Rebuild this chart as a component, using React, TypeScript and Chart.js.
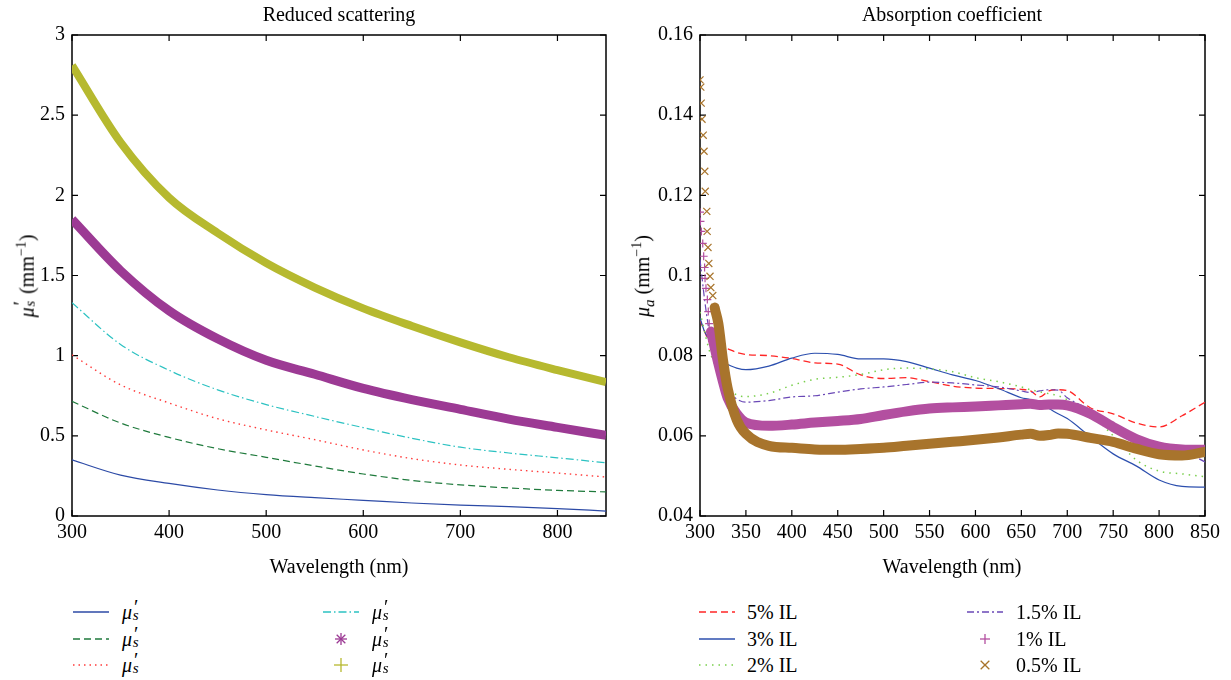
import React, { useEffect, useRef } from 'react';
import { Chart, registerables } from 'chart.js';
Chart.register(...registerables);

const FONT = "'Liberation Serif', 'Times New Roman', serif";

// ---------- Left panel: reduced scattering ----------
const WL_LEFT = [300, 350, 400, 450, 500, 550, 600, 650, 700, 750, 800, 850];
const SCAT_BLUE = [0.35, 0.255, 0.203, 0.162, 0.133, 0.114, 0.098, 0.081, 0.068, 0.058, 0.046, 0.031];
const SCAT_GREEN = [0.715, 0.58, 0.49, 0.42, 0.366, 0.312, 0.262, 0.222, 0.194, 0.175, 0.16, 0.15];
const SCAT_RED = [1.005, 0.818, 0.705, 0.607, 0.537, 0.476, 0.412, 0.358, 0.318, 0.291, 0.268, 0.243];
const SCAT_CYAN = [1.33, 1.07, 0.909, 0.787, 0.695, 0.621, 0.551, 0.485, 0.429, 0.393, 0.363, 0.332];
const SCAT_PURPLE = [1.85, 1.53, 1.28, 1.105, 0.971, 0.884, 0.796, 0.726, 0.665, 0.604, 0.553, 0.503];
const SCAT_OLIVE = [2.81, 2.33, 1.985, 1.765, 1.578, 1.425, 1.295, 1.185, 1.083, 0.99, 0.91, 0.835];
const LEFT_X_TICKS = [300, 400, 500, 600, 700, 800];
const LEFT_Y_TICKS = [0, 0.5, 1, 1.5, 2, 2.5, 3];

// ---------- Right panel: absorption coefficient ----------
const WL_RIGHT = [300, 305, 310, 315, 320, 325, 330, 340, 350, 375, 400, 425, 450, 475, 500, 525, 550, 575, 600, 625, 650, 660, 670, 680, 690, 700, 725, 750, 775, 800, 825, 850];
const ABS_5 = [0.0889, 0.086, 0.0835, 0.0826, 0.0822, 0.0819, 0.0817, 0.0808, 0.0803, 0.08, 0.0793, 0.0782, 0.0779, 0.0752, 0.0743, 0.0745, 0.0735, 0.0724, 0.0719, 0.0718, 0.0716, 0.0712, 0.0697, 0.0712, 0.0715, 0.0713, 0.067, 0.0655, 0.0632, 0.0622, 0.065, 0.0684];
const ABS_3 = [0.0894, 0.086, 0.084, 0.081, 0.079, 0.0782, 0.0778, 0.0769, 0.0765, 0.0774, 0.0794, 0.0806, 0.0803, 0.0792, 0.0792, 0.0785, 0.0769, 0.0752, 0.0738, 0.0718, 0.0695, 0.069, 0.068, 0.0668, 0.0655, 0.0643, 0.0598, 0.0555, 0.0525, 0.049, 0.0474, 0.0472];
const ABS_2 = [0.0909, 0.086, 0.0814, 0.0785, 0.0757, 0.0735, 0.0719, 0.0702, 0.0698, 0.0706, 0.0726, 0.0741, 0.0746, 0.0753, 0.0765, 0.0769, 0.0767, 0.076, 0.0745, 0.0735, 0.0722, 0.0715, 0.071, 0.0705, 0.07, 0.069, 0.0655, 0.06, 0.054, 0.0512, 0.0505, 0.0498];
const ABS_15 = [0.104, 0.094, 0.086, 0.08, 0.076, 0.073, 0.0712, 0.0692, 0.0684, 0.0688, 0.0697, 0.07, 0.0709, 0.0717, 0.0722, 0.0728, 0.0734, 0.0732, 0.0727, 0.0722, 0.0712, 0.0708, 0.0712, 0.0715, 0.0714, 0.0695, 0.0665, 0.0632, 0.06, 0.0575, 0.0563, 0.0535];
const ABS_1 = [0.1158, 0.102, 0.088, 0.083, 0.078, 0.0735, 0.0695, 0.0655, 0.0633, 0.0625, 0.0628, 0.0633, 0.0637, 0.0642, 0.0652, 0.0661, 0.0668, 0.0671, 0.0673, 0.0676, 0.0679, 0.068, 0.0677, 0.0678, 0.0678, 0.0676, 0.0655, 0.0622, 0.0592, 0.0573, 0.0566, 0.0565];
const ABS_05 = [0.1488, 0.126, 0.0998, 0.093, 0.088, 0.079, 0.072, 0.064, 0.0605, 0.0575, 0.057, 0.0566, 0.0565, 0.0567, 0.057, 0.0575, 0.058, 0.0585, 0.059, 0.0596, 0.0603, 0.0605, 0.06, 0.0602, 0.0606, 0.0605, 0.0595, 0.0585, 0.0568, 0.0554, 0.0551, 0.056];
// individual markers visible on the steep start of the two marker series
const EDGE_WL_1 = [300, 300.5, 301.5, 303, 304, 305, 305.5, 306.5, 308, 309, 310, 312];
const EDGE_1 = [0.1158, 0.1135, 0.111, 0.108, 0.1048, 0.102, 0.0993, 0.0968, 0.094, 0.091, 0.088, 0.086];
const EDGE_WL_05 = [300, 300.9, 301.3, 302.2, 303.5, 304.4, 305.2, 305.7, 307.4, 307.8, 308.7, 309.6, 310.9, 311.8, 313.9, 316];
const EDGE_05 = [0.1488, 0.147, 0.143, 0.139, 0.135, 0.131, 0.126, 0.121, 0.116, 0.111, 0.107, 0.103, 0.0998, 0.097, 0.095, 0.092];
const RIGHT_LABELS = ['5% IL', '3% IL', '2% IL', '1.5% IL', '1% IL', '0.5% IL'];
const RIGHT_X_TICKS = [300, 350, 400, 450, 500, 550, 600, 650, 700, 750, 800, 850];
const RIGHT_Y_TICKS = [0.04, 0.06, 0.08, 0.1, 0.12, 0.14, 0.16];

const C = {
  lBlue: '#2c4aa6', lGreen: '#1f7a3c', lRed: '#ff3b3b', lCyan: '#2cc2c2', lPurple: '#9c3a94', lOlive: '#b6b92f',
  rRed: '#ff2626', rBlue: '#2c4fae', rGreen: '#79cf4c', rPurple: '#6a48b6', rMagenta: '#b34fa0', rBrown: '#a8742c',
};

const boxPlugin = {
  id: 'matlabBox',
  beforeDatasetsDraw(chart: any) {
    const { ctx, chartArea: a } = chart;
    const xs = chart.scales.x;
    const ys = chart.scales.y;
    ctx.save();
    ctx.strokeStyle = '#000';
    ctx.lineWidth = 1.2;
    ctx.beginPath();
    xs.ticks.forEach((t: any) => {
      const p = xs.getPixelForValue(t.value);
      ctx.moveTo(p, a.bottom); ctx.lineTo(p, a.bottom - 6);
      ctx.moveTo(p, a.top); ctx.lineTo(p, a.top + 6);
    });
    ys.ticks.forEach((t: any) => {
      const p = ys.getPixelForValue(t.value);
      ctx.moveTo(a.left, p); ctx.lineTo(a.left + 6, p);
      ctx.moveTo(a.right, p); ctx.lineTo(a.right - 6, p);
    });
    ctx.stroke();
    ctx.lineWidth = 1.5;
    ctx.strokeRect(a.left, a.top, a.right - a.left, a.bottom - a.top);
    ctx.restore();
  },
};

function fixedScale(size: number, horizontal: boolean, ticks: number[]) {
  return {
    afterBuildTicks: (s: any) => { s.ticks = ticks.map((v) => ({ value: v })); },
    afterFit: (s: any) => {
      if (horizontal) s.height = size; else s.width = size;
      s.paddingLeft = 0; s.paddingRight = 0; s.paddingTop = 0; s.paddingBottom = 0;
    },
  };
}

function makeOptions(xMin: number, xMax: number, yMin: number, yMax: number, xt: number[], yt: number[], yWidth: number, pad: any, fmt: (v: number) => string) {
  const tickFont = { family: FONT, size: 20 };
  return {
    animation: false,
    responsive: false,
    maintainAspectRatio: false,
    layout: { padding: pad },
    plugins: { legend: { display: false }, tooltip: { enabled: false }, title: { display: false } },
    elements: { point: { radius: 0 } },
    scales: {
      x: {
        type: 'linear', min: xMin, max: xMax,
        ...fixedScale(40, true, xt),
        grid: { display: false, drawTicks: false },
        border: { display: false },
        ticks: { padding: 5, color: '#000', font: tickFont, maxRotation: 0, autoSkip: false, callback: (v: number) => String(v) },
      },
      y: {
        type: 'linear', min: yMin, max: yMax,
        ...fixedScale(yWidth, false, yt),
        grid: { display: false, drawTicks: false },
        border: { display: false },
        ticks: { padding: 7, color: '#000', font: tickFont, autoSkip: false, callback: (v: number) => fmt(v) },
      },
    },
  };
}

function series(xs: number[], ys: number[]) {
  return xs.map((x, i) => ({ x, y: ys[i] }));
}

function lineDs(data: any[], color: string, dash: number[], width: number, i: number, extra: any = {}) {
  return {
    data,
    borderColor: color,
    backgroundColor: color,
    borderWidth: width,
    borderDash: dash,
    pointRadius: 0,
    fill: false,
    cubicInterpolationMode: 'monotone',
    order: -i,
    ...extra,
  };
}

function markerBand(edgeX: number[], edgeY: number[], xs: number[], ys: number[], color: string, width: number, i: number, style: string, r: number) {
  const limit = edgeX[edgeX.length - 1];
  const data = [...series(edgeX, edgeY), ...series(xs, ys).filter((p) => p.x > limit)];
  return lineDs(data, color, [], width, i, {
    borderCapStyle: 'round',
    borderJoinStyle: 'round',
    segment: {
      borderColor: (ctx: any) => (ctx.p0.parsed.x < limit ? 'rgba(0,0,0,0)' : color),
    },
    pointStyle: style,
    pointRadius: (ctx: any) => (ctx.raw && ctx.raw.x <= limit ? r : 0),
    pointBorderColor: color,
    pointBorderWidth: 1.2,
    pointBackgroundColor: color,
  });
}

function ChartCanvas({ config, left, top, width, height }: any) {
  const ref = useRef<HTMLCanvasElement | null>(null);
  useEffect(() => {
    if (!ref.current) return;
    const chart = new Chart(ref.current, config);
    return () => chart.destroy();
  }, []);
  return (
    <canvas ref={ref} width={width} height={height}
      style={{ position: 'absolute', left, top, width, height, display: 'block' }} />
  );
}

function Label({ x, y, rotate, children }: any) {
  return (
    <div style={{
      position: 'absolute', left: x, top: y, whiteSpace: 'nowrap', fontFamily: FONT, fontSize: 20, lineHeight: '24px', color: '#000',
      transform: `translate(-50%, -50%)${rotate ? ' rotate(-90deg)' : ''}`,
    }}>{children}</div>
  );
}

function MuS() {
  return (
    <span style={{ whiteSpace: 'nowrap' }}>
      <i>μ</i>
      <span style={{ display: 'inline-block', position: 'relative', width: '0.42em', height: '1em' }}>
        <span style={{ position: 'absolute', left: '0.1em', top: '-0.12em', lineHeight: 1, fontStyle: 'normal' }}>′</span>
        <span style={{ position: 'absolute', left: '0.04em', top: '0.62em', lineHeight: 1, fontSize: '0.75em', fontStyle: 'italic' }}>s</span>
      </span>
    </span>
  );
}

function Sample({ s }: any) {
  if (s.kind === 'line') {
    return (
      <svg width={36} height={14} style={{ display: 'block' }}>
        <line x1={0} y1={7} x2={36} y2={7} stroke={s.color} strokeWidth={1.5} strokeDasharray={s.dash ? s.dash.join(' ') : undefined} />
      </svg>
    );
  }
  const cx = 18, cy = 8, r = s.r;
  const d = r * 0.72;
  let lines: number[][] = [];
  if (s.kind === 'plus') lines = [[cx - r, cy, cx + r, cy], [cx, cy - r, cx, cy + r]];
  if (s.kind === 'x') lines = [[cx - d, cy - d, cx + d, cy + d], [cx - d, cy + d, cx + d, cy - d]];
  if (s.kind === 'star') lines = [[cx - r, cy, cx + r, cy], [cx, cy - r, cx, cy + r], [cx - d, cy - d, cx + d, cy + d], [cx - d, cy + d, cx + d, cy - d]];
  return (
    <svg width={36} height={16} style={{ display: 'block', overflow: 'visible' }}>
      {lines.map((l, i) => <line key={i} x1={l[0]} y1={l[1]} x2={l[2]} y2={l[3]} stroke={s.color} strokeWidth={1.3} />)}
    </svg>
  );
}

function LegendItem({ x, tx, y, s, children }: any) {
  return (
    <div style={{ position: 'absolute', left: x, top: y - 13, height: 26, display: 'flex', alignItems: 'center', fontFamily: FONT, fontSize: 20, whiteSpace: 'nowrap' }}>
      <div style={{ width: tx - x }}><Sample s={s} /></div>
      <div style={{ lineHeight: '26px' }}>{children}</div>
    </div>
  );
}

const leftConfig: any = {
  type: 'line',
  data: {
    datasets: [
      lineDs(series(WL_LEFT, SCAT_BLUE), C.lBlue, [], 1.2, 0),
      lineDs(series(WL_LEFT, SCAT_GREEN), C.lGreen, [7, 4], 1.2, 1),
      lineDs(series(WL_LEFT, SCAT_RED), C.lRed, [1.5, 4], 1.4, 2),
      lineDs(series(WL_LEFT, SCAT_CYAN), C.lCyan, [8, 3, 1.5, 3], 1.2, 3),
      lineDs(series(WL_LEFT, SCAT_PURPLE), C.lPurple, [], 9, 4),
      lineDs(series(WL_LEFT, SCAT_OLIVE), C.lOlive, [], 8, 5),
    ],
  },
  options: makeOptions(300, 850, 0, 3, LEFT_X_TICKS, LEFT_Y_TICKS, 72, { left: 0, top: 35, right: 14, bottom: 24 }, (v) => String(v)),
  plugins: [boxPlugin],
};

const rightConfig: any = {
  type: 'line',
  data: {
    datasets: [
      lineDs(series(WL_RIGHT, ABS_5), C.rRed, [7, 4], 1.3, 0),
      lineDs(series(WL_RIGHT, ABS_3), C.rBlue, [], 1.2, 1),
      lineDs(series(WL_RIGHT, ABS_2), C.rGreen, [1.5, 5], 1.5, 2),
      lineDs(series(WL_RIGHT, ABS_15), C.rPurple, [7, 3, 2, 3], 1.2, 3),
      markerBand(EDGE_WL_1, EDGE_1, WL_RIGHT, ABS_1, C.rMagenta, 10, 4, 'cross', 4),
      markerBand(EDGE_WL_05, EDGE_05, WL_RIGHT, ABS_05, C.rBrown, 10, 5, 'crossRot', 5),
    ],
  },
  options: makeOptions(300, 850, 0.04, 0.16, RIGHT_X_TICKS, RIGHT_Y_TICKS, 80, { left: 0, top: 35, right: 26, bottom: 24 }, (v) => String(Number(v.toFixed(2)))),
  plugins: [boxPlugin],
};

export default function App() {
  const rows = [612, 639, 665];
  return (
    <div style={{ position: 'absolute', left: 0, top: 0, width: 1231, height: 680, overflow: 'hidden', background: '#fff' }}>
      <ChartCanvas config={leftConfig} left={0} top={0} width={620} height={580} />
      <ChartCanvas config={rightConfig} left={620} top={0} width={611} height={580} />

      <Label x={339} y={14}>Reduced scattering</Label>
      <Label x={952} y={14}>Absorption coefficient</Label>
      <Label x={339} y={566}>Wavelength (nm)</Label>
      <Label x={952} y={566}>Wavelength (nm)</Label>
      <Label x={24} y={276} rotate>
        <MuS /> (mm<sup style={{ fontSize: '0.7em' }}>−1</sup>)
      </Label>
      <Label x={643} y={276} rotate>
        <i>μ</i><sub style={{ fontSize: '0.75em' }}><i>a</i></sub> (mm<sup style={{ fontSize: '0.7em' }}>−1</sup>)
      </Label>

      <LegendItem x={73} tx={122} y={rows[0]} s={{ kind: 'line', color: C.lBlue }}><MuS /></LegendItem>
      <LegendItem x={73} tx={122} y={rows[1]} s={{ kind: 'line', color: C.lGreen, dash: [7, 4] }}><MuS /></LegendItem>
      <LegendItem x={73} tx={122} y={rows[2]} s={{ kind: 'line', color: C.lRed, dash: [1.5, 4] }}><MuS /></LegendItem>
      <LegendItem x={323} tx={372} y={rows[0]} s={{ kind: 'line', color: C.lCyan, dash: [8, 3, 1.5, 3] }}><MuS /></LegendItem>
      <LegendItem x={323} tx={372} y={rows[1]} s={{ kind: 'star', color: C.lPurple, r: 6 }}><MuS /></LegendItem>
      <LegendItem x={323} tx={372} y={rows[2]} s={{ kind: 'plus', color: C.lOlive, r: 7 }}><MuS /></LegendItem>

      <LegendItem x={699} tx={747} y={rows[0]} s={{ kind: 'line', color: C.rRed, dash: [7, 4] }}>{RIGHT_LABELS[0]}</LegendItem>
      <LegendItem x={699} tx={747} y={rows[1]} s={{ kind: 'line', color: C.rBlue }}>{RIGHT_LABELS[1]}</LegendItem>
      <LegendItem x={699} tx={747} y={rows[2]} s={{ kind: 'line', color: C.rGreen, dash: [1.5, 5] }}>{RIGHT_LABELS[2]}</LegendItem>
      <LegendItem x={967} tx={1016} y={rows[0]} s={{ kind: 'line', color: C.rPurple, dash: [7, 3, 2, 3] }}>{RIGHT_LABELS[3]}</LegendItem>
      <LegendItem x={967} tx={1016} y={rows[1]} s={{ kind: 'plus', color: C.rMagenta, r: 5 }}>{RIGHT_LABELS[4]}</LegendItem>
      <LegendItem x={967} tx={1016} y={rows[2]} s={{ kind: 'x', color: C.rBrown, r: 6 }}>{RIGHT_LABELS[5]}</LegendItem>
    </div>
  );
}
